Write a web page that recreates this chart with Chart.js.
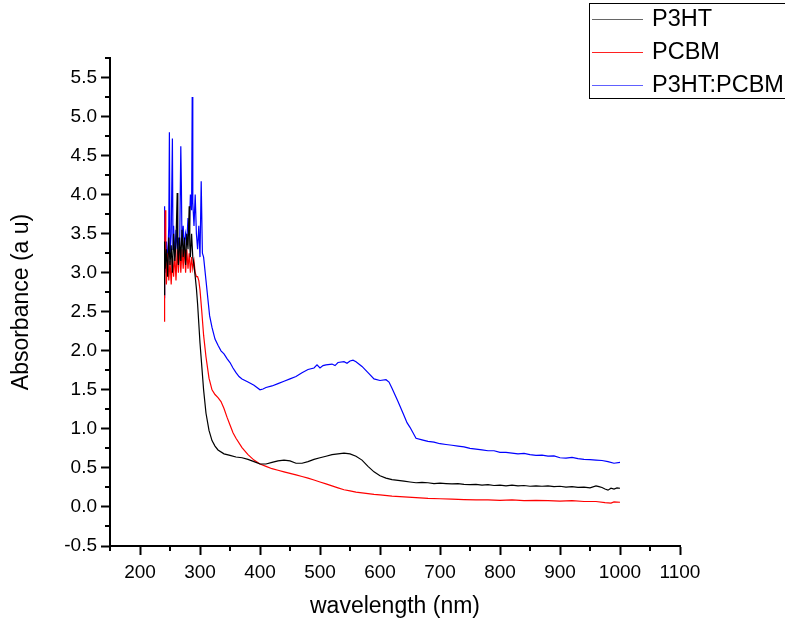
<!DOCTYPE html>
<html><head><meta charset="utf-8">
<script src="https://cdn.jsdelivr.net/npm/chart.js@4/dist/chart.umd.min.js"></script>
<style>html,body{margin:0;padding:0;background:#fff;overflow:hidden}canvas{display:block}</style>
</head><body>
<canvas id="c" width="785" height="623"></canvas>
<script>
const seriesNames = ['P3HT', 'PCBM', 'P3HT:PCBM'];

const p3htWl  = [240,241,242,244,246,248,250,252,254,256,258,260,262,263,264,266,268,270,272,274,276,278,280,282,283,284,286,288,290,292,294,296,298,300,303,306,310,315,320,325,330,340,350,360,370,380,390,400,410,420,430,440,450,460,470,480,490,500,510,520,530,540,550,560,570,580,590,600,610,620,630,640,650,660,670,680,690,700,710,720,730,740,750,760,770,780,790,800,810,820,830,840,850,860,870,880,890,900,910,920,930,940,950,960,965,970,975,980,985,990,995,1000];
const p3htAbs = [2.72,3.40,3.05,3.30,2.95,3.45,3.10,3.35,3.00,3.50,3.15,3.40,4.02,3.25,3.10,3.45,3.15,3.55,3.20,3.45,3.10,3.50,3.30,3.85,3.35,3.20,3.50,3.20,3.10,2.95,2.80,2.60,2.35,2.10,1.80,1.50,1.20,0.98,0.85,0.78,0.73,0.68,0.66,0.64,0.63,0.61,0.58,0.55,0.55,0.57,0.59,0.60,0.59,0.56,0.56,0.58,0.61,0.63,0.65,0.67,0.68,0.69,0.68,0.65,0.60,0.52,0.45,0.40,0.37,0.35,0.34,0.33,0.32,0.31,0.315,0.31,0.30,0.305,0.30,0.295,0.30,0.29,0.285,0.29,0.28,0.285,0.275,0.28,0.27,0.28,0.27,0.275,0.265,0.27,0.265,0.27,0.26,0.265,0.255,0.26,0.25,0.255,0.245,0.27,0.26,0.25,0.23,0.215,0.24,0.23,0.245,0.24];

const pcbmWl  = [240,241,242,243,244,246,248,250,252,254,256,258,260,262,264,266,268,270,272,274,276,278,280,282,284,286,288,290,292,294,296,298,300,303,306,310,315,320,325,330,335,340,345,350,355,360,370,380,390,400,410,420,430,440,450,460,470,480,490,500,510,520,530,540,550,560,570,580,590,600,620,640,660,680,700,720,740,760,780,800,820,840,860,880,900,920,940,960,975,985,990,1000];
const pcbmAbs = [2.38,3.05,3.80,3.20,2.85,3.25,2.90,3.15,2.85,3.20,2.95,3.25,2.90,3.30,3.00,3.35,3.00,3.30,3.05,3.35,3.00,3.30,3.05,3.25,3.00,3.20,3.05,3.15,3.00,2.95,2.95,2.90,2.78,2.50,2.20,1.92,1.65,1.50,1.44,1.40,1.35,1.26,1.15,1.05,0.95,0.88,0.76,0.67,0.60,0.55,0.52,0.49,0.47,0.45,0.43,0.41,0.39,0.37,0.345,0.32,0.295,0.27,0.245,0.22,0.205,0.19,0.18,0.17,0.16,0.155,0.14,0.13,0.12,0.11,0.105,0.10,0.095,0.09,0.09,0.085,0.09,0.08,0.085,0.08,0.075,0.08,0.07,0.07,0.055,0.05,0.065,0.06];

const blendWl  = [240,241,242,244,246,248,249,250,252,254,255,256,258,260,262,264,266,268,269,270,272,274,276,278,280,282,284,286,287,288,290,292,294,296,298,300,302,304,306,308,310,312,314,316,320,325,330,335,340,345,350,355,360,365,370,380,390,400,405,410,420,430,440,450,460,470,480,490,495,500,505,510,520,525,530,540,545,550,555,560,570,580,590,600,610,615,620,630,640,645,650,655,660,670,680,690,700,710,720,730,740,750,760,770,780,790,800,810,820,830,840,850,860,870,880,890,900,910,920,930,940,950,960,970,980,990,1000];
const blendAbs = [2.68,3.85,3.00,3.40,3.10,3.60,4.80,3.20,3.50,4.72,3.30,3.60,3.20,3.55,3.30,3.45,3.25,4.62,4.10,3.35,3.60,3.30,3.50,3.40,3.70,3.50,4.00,3.80,5.25,3.90,3.60,4.00,3.50,3.30,3.60,3.20,4.17,3.25,3.20,3.05,2.90,2.75,2.60,2.45,2.30,2.15,2.07,2.00,1.96,1.90,1.85,1.78,1.72,1.67,1.64,1.60,1.56,1.50,1.51,1.53,1.55,1.58,1.61,1.64,1.67,1.72,1.76,1.78,1.82,1.78,1.81,1.82,1.83,1.81,1.85,1.86,1.84,1.87,1.88,1.86,1.80,1.72,1.64,1.62,1.63,1.60,1.52,1.35,1.17,1.08,1.02,0.95,0.88,0.86,0.84,0.83,0.81,0.80,0.79,0.78,0.77,0.75,0.74,0.73,0.72,0.72,0.70,0.70,0.69,0.68,0.685,0.67,0.66,0.665,0.65,0.655,0.63,0.625,0.635,0.62,0.61,0.605,0.60,0.595,0.58,0.56,0.57];

const seriesColors = ['#000000', '#ff0000', '#0000ff'];
const legendLineColors = ['#666666', '#ff2020', '#6060ff'];

const xTickValues = [200,300,400,500,600,700,800,900,1000,1100];
const xMinorTicks = [150,250,350,450,550,650,750,850,950,1050];
const yTickValues = [-0.5,0.0,0.5,1.0,1.5,2.0,2.5,3.0,3.5,4.0,4.5,5.0,5.5];
const yMinorTicks = [-0.25,0.25,0.75,1.25,1.75,2.25,2.75,3.25,3.75,4.25,4.75,5.25,5.75];

const FONT = "'Liberation Sans', Arial, sans-serif";

function pts(xs, ys) { return xs.map((x, i) => ({x: x, y: ys[i]})); }

const minorTicksPlugin = {
  id: 'minorTicks',
  afterDraw(chart) {
    const ctx = chart.ctx;
    const xs = chart.scales.x, ys = chart.scales.y;
    ctx.save();
    ctx.strokeStyle = '#000';
    ctx.lineWidth = 2;
    ctx.beginPath();
    xMinorTicks.forEach(v => {
      const px = Math.round(xs.getPixelForValue(v));
      ctx.moveTo(px, xs.top);
      ctx.lineTo(px, xs.top + 5);
    });
    yMinorTicks.forEach(v => {
      const py = Math.round(ys.getPixelForValue(v));
      ctx.moveTo(ys.right, py);
      ctx.lineTo(ys.right - 5, py);
    });
    ctx.stroke();
    ctx.restore();
  }
};

const boxLegendPlugin = {
  id: 'boxLegend',
  afterDraw(chart) {
    const ctx = chart.ctx;
    ctx.save();
    ctx.strokeStyle = '#000';
    ctx.lineWidth = 1;
    ctx.strokeRect(589.5, 3.5, 210, 95);
    ctx.font = '23.5px ' + FONT;
    ctx.textBaseline = 'middle';
    ctx.fillStyle = '#000';
    const rows = [19, 52, 85];
    chart.data.datasets.forEach((ds, i) => {
      ctx.strokeStyle = legendLineColors[i];
      ctx.lineWidth = 1;
      ctx.beginPath();
      ctx.moveTo(592, rows[i] + 0.5);
      ctx.lineTo(643, rows[i] + 0.5);
      ctx.stroke();
      ctx.fillText(ds.label, 652, rows[i] + 1);
    });
    ctx.restore();
  }
};

new Chart(document.getElementById('c'), {
  type: 'line',
  data: {
    datasets: [
      {label: seriesNames[0], data: pts(p3htWl, p3htAbs), borderColor: seriesColors[0]},
      {label: seriesNames[1], data: pts(pcbmWl, pcbmAbs), borderColor: seriesColors[1]},
      {label: seriesNames[2], data: pts(blendWl, blendAbs), borderColor: seriesColors[2]}
    ]
  },
  options: {
    responsive: false,
    animation: false,
    devicePixelRatio: 1,
    elements: {
      point: {radius: 0},
      line: {borderWidth: 1.2, tension: 0}
    },
    layout: {padding: {left: 0, top: 58, right: 105, bottom: 0}},
    plugins: {legend: {display: false}, title: {display: false}, tooltip: {enabled: false}},
    scales: {
      x: {
        type: 'linear',
        min: 150, max: 1100,
        afterBuildTicks: s => { s.ticks = xTickValues.map(v => ({value: v})); },
        afterFit: s => { s.height = 77; },
        grid: {drawOnChartArea: false, drawTicks: true, tickLength: 9, tickWidth: 2, color: '#000'},
        border: {display: true, width: 2, color: '#000'},
        ticks: {color: '#000', font: {family: FONT, size: 19}, padding: 6, maxRotation: 0, autoSkip: false,
                callback: v => String(v)},
        title: {display: true, text: 'wavelength (nm)', color: '#000', font: {family: FONT, size: 23}, padding: {top: 0, bottom: 3}}
      },
      y: {
        type: 'linear',
        min: -0.5, max: 5.75,
        afterBuildTicks: s => { s.ticks = yTickValues.map(v => ({value: v})); },
        afterFit: s => { s.width = 110; },
        grid: {drawOnChartArea: false, drawTicks: true, tickLength: 9, tickWidth: 2, color: '#000'},
        border: {display: true, width: 2, color: '#000'},
        ticks: {color: '#000', font: {family: FONT, size: 19}, padding: 4, autoSkip: false,
                callback: v => Number(v).toFixed(1)},
        title: {display: true, text: 'Absorbance (a u)', color: '#000', font: {family: FONT, size: 23}, padding: {top: 8, bottom: 0}}
      }
    }
  },
  plugins: [minorTicksPlugin, boxLegendPlugin]
});
</script>
</body></html>
